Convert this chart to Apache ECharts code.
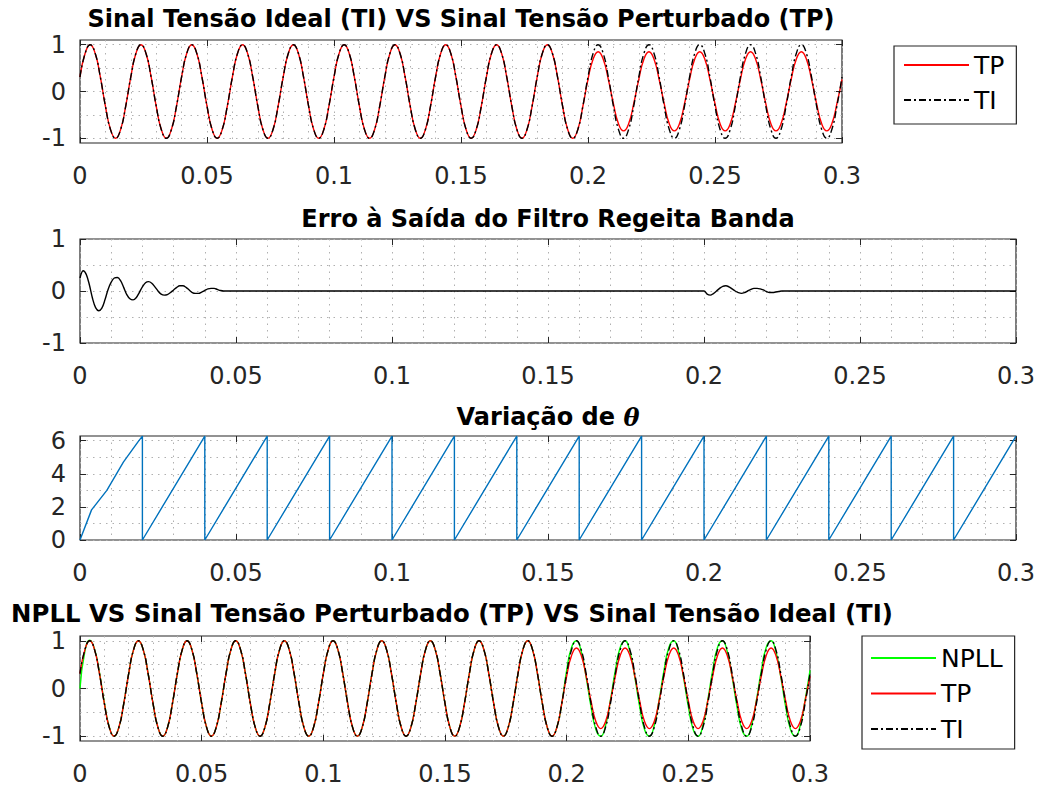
<!DOCTYPE html>
<html>
<head>
<meta charset="utf-8">
<script src="https://cdn.jsdelivr.net/npm/echarts@6/dist/echarts.min.js"></script>
<style>html,body{margin:0;padding:0;background:#fff}#chart{width:1043px;height:787px}</style>
</head>
<body>
<div id="chart"></div>
<script>
// ---------------- DATA ----------------
// sample spacing of the voltage signals (s)
const sampleStep = 0.002;

// Ideal voltage (TI), samples every 2 ms from t = 0 to 0.3 s
const tiValues = [
  0.31,0.81,1,0.81,0.31,-0.31,-0.81,-1,-0.81,-0.31,
  0.31,0.81,1,0.81,0.31,-0.31,-0.81,-1,-0.81,-0.31,
  0.31,0.81,1,0.81,0.31,-0.31,-0.81,-1,-0.81,-0.31,
  0.31,0.81,1,0.81,0.31,-0.31,-0.81,-1,-0.81,-0.31,
  0.31,0.81,1,0.81,0.31,-0.31,-0.81,-1,-0.81,-0.31,
  0.31,0.81,1,0.81,0.31,-0.31,-0.81,-1,-0.81,-0.31,
  0.31,0.81,1,0.81,0.31,-0.31,-0.81,-1,-0.81,-0.31,
  0.31,0.81,1,0.81,0.31,-0.31,-0.81,-1,-0.81,-0.31,
  0.31,0.81,1,0.81,0.31,-0.31,-0.81,-1,-0.81,-0.31,
  0.31,0.81,1,0.81,0.31,-0.31,-0.81,-1,-0.81,-0.31,
  0.31,0.81,1,0.81,0.31,-0.31,-0.81,-1,-0.81,-0.31,
  0.31,0.81,1,0.81,0.31,-0.31,-0.81,-1,-0.81,-0.31,
  0.31,0.81,1,0.81,0.31,-0.31,-0.81,-1,-0.81,-0.31,
  0.31,0.81,1,0.81,0.31,-0.31,-0.81,-1,-0.81,-0.31,
  0.31,0.81,1,0.81,0.31,-0.31,-0.81,-1,-0.81,-0.31,
  0.31
];

// Perturbed voltage (TP): sag to ~0.85 after t = 0.2 s
const tpValues = [
  0.31,0.81,1,0.81,0.31,-0.31,-0.81,-1,-0.81,-0.31,
  0.31,0.81,1,0.81,0.31,-0.31,-0.81,-1,-0.81,-0.31,
  0.31,0.81,1,0.81,0.31,-0.31,-0.81,-1,-0.81,-0.31,
  0.31,0.81,1,0.81,0.31,-0.31,-0.81,-1,-0.81,-0.31,
  0.31,0.81,1,0.81,0.31,-0.31,-0.81,-1,-0.81,-0.31,
  0.31,0.81,1,0.81,0.31,-0.31,-0.81,-1,-0.81,-0.31,
  0.31,0.81,1,0.81,0.31,-0.31,-0.81,-1,-0.81,-0.31,
  0.31,0.81,1,0.81,0.31,-0.31,-0.81,-1,-0.81,-0.31,
  0.31,0.81,1,0.81,0.31,-0.31,-0.81,-1,-0.81,-0.31,
  0.31,0.81,1,0.81,0.31,-0.31,-0.81,-1,-0.81,-0.31,
  0.26,0.69,0.85,0.69,0.26,-0.26,-0.69,-0.84,-0.69,-0.26,
  0.26,0.69,0.85,0.69,0.26,-0.26,-0.69,-0.84,-0.69,-0.26,
  0.26,0.69,0.85,0.69,0.26,-0.26,-0.69,-0.84,-0.69,-0.26,
  0.26,0.69,0.85,0.69,0.26,-0.26,-0.69,-0.84,-0.69,-0.26,
  0.26,0.69,0.85,0.69,0.26,-0.26,-0.69,-0.84,-0.69,-0.26,
  0.26
];

// NPLL output
const npllValues = [
  0,0.78,1.01,0.82,0.33,-0.29,-0.8,-1,-0.81,-0.31,
  0.31,0.81,1,0.81,0.31,-0.31,-0.81,-1,-0.81,-0.31,
  0.31,0.81,1,0.81,0.31,-0.31,-0.81,-1,-0.81,-0.31,
  0.31,0.81,1,0.81,0.31,-0.31,-0.81,-1,-0.81,-0.31,
  0.31,0.81,1,0.81,0.31,-0.31,-0.81,-1,-0.81,-0.31,
  0.31,0.81,1,0.81,0.31,-0.31,-0.81,-1,-0.81,-0.31,
  0.31,0.81,1,0.81,0.31,-0.31,-0.81,-1,-0.81,-0.31,
  0.31,0.81,1,0.81,0.31,-0.31,-0.81,-1,-0.81,-0.31,
  0.31,0.81,1,0.81,0.31,-0.31,-0.81,-1,-0.81,-0.31,
  0.31,0.81,1,0.81,0.31,-0.31,-0.81,-1,-0.81,-0.31,
  0.38,0.86,1,0.77,0.24,-0.38,-0.86,-1,-0.77,-0.24,
  0.38,0.86,1,0.77,0.24,-0.38,-0.86,-1,-0.77,-0.24,
  0.38,0.86,1,0.77,0.24,-0.38,-0.86,-1,-0.77,-0.24,
  0.38,0.86,1,0.77,0.24,-0.38,-0.86,-1,-0.77,-0.24,
  0.38,0.86,1,0.77,0.24,-0.38,-0.86,-1,-0.77,-0.24,
  0.38
];

// Band-reject filter error
const errTime = [
  0,0.001,0.002,0.003,0.004,0.005,0.006,0.007,0.008,0.009,
  0.010,0.011,0.012,0.013,0.014,0.015,0.016,0.017,0.018,0.019,
  0.020,0.021,0.022,0.023,0.024,0.025,0.026,0.027,0.028,0.029,
  0.030,0.031,0.032,0.033,0.034,0.035,0.036,0.037,0.038,0.039,
  0.040,0.041,0.042,0.043,0.044,0.045,0.046,
  0.200,0.201,0.202,0.203,0.204,0.205,0.206,0.207,0.208,0.209,
  0.210,0.211,0.212,0.213,0.214,0.215,0.216,0.217,0.218,0.219,
  0.220,0.221,0.222,0.223,0.224,0.225,0.300
];
const errValue = [
  0.25,0.39,0.32,0.12,-0.14,-0.32,-0.38,-0.33,-0.17,0.03,
  0.17,0.25,0.26,0.2,0.07,-0.07,-0.15,-0.17,-0.13,-0.03,
  0.08,0.16,0.18,0.15,0.08,0.0,-0.06,-0.08,-0.07,-0.03,
  0.02,0.07,0.1,0.1,0.07,0.02,-0.03,-0.045,-0.045,-0.02,
  0.01,0.04,0.05,0.05,0.03,0.01,0,
  0,-0.06,-0.08,-0.05,0,0.05,0.09,0.1,0.08,0.04,
  0,-0.03,-0.045,-0.03,0,0.03,0.05,0.05,0.04,0.02,
  -0.01,-0.03,-0.03,-0.02,-0.01,0,0
];

// Phase angle theta (rad)
const thetaTime = [
  0,0.0037,0.0086,0.0139,0.0187,0.02,
  0.02,0.04, 0.04,0.06, 0.06,0.08, 0.08,0.10, 0.10,0.12, 0.12,0.14,
  0.14,0.16, 0.16,0.18, 0.18,0.20, 0.20,0.22, 0.22,0.24, 0.24,0.26,
  0.26,0.28, 0.28,0.30
];
const thetaValue = [
  0,1.82,3.0,4.7,5.96,6.28,
  0,6.28, 0,6.28, 0,6.28, 0,6.28, 0,6.28, 0,6.28,
  0,6.28, 0,6.28, 0,6.28, 0,6.28, 0,6.28, 0,6.28,
  0,6.28, 0,6.28
];

// tick labels
const xTicks = [0, 0.05, 0.1, 0.15, 0.2, 0.25, 0.3];
const yTicksSignal = [-1, 0, 1];
const yGridSignal = [-1, -0.5, 0, 0.5, 1];
const yTicksTheta = [0, 2, 4, 6];
const yGridTheta = [0, 1, 2, 3, 4, 5, 6];

// --------------- CHART ----------------
const FONT = 'DejaVu Sans';
const AX = '#262626';
const gridDot = { color: '#b0b0b0', width: 1, type: [1.5, 5] };

const toPairs = vals => vals.map((v, i) => [Math.round(i * sampleStep * 1e6) / 1e6, v]);
const zip = (a, b) => a.map((v, i) => [v, b[i]]);

const grids = [
  { left: 80, top: 40, width: 762, height: 103 },
  { left: 80, top: 239, width: 936, height: 104 },
  { left: 80, top: 436, width: 936, height: 104 },
  { left: 80, top: 636, width: 730, height: 105 }
].map(g => Object.assign(g, { show: true, borderColor: AX, borderWidth: 1.2, backgroundColor: '#fff' }));

const noLine = { show: false, onZero: false };
const xAxes = [];
const yAxes = [];
const yCfg = [
  { min: -1.1, max: 1.1, ticks: yTicksSignal, grid: yGridSignal },
  { min: -1, max: 1, ticks: yTicksSignal, grid: yGridSignal },
  { min: 0, max: 6.2832, ticks: yTicksTheta, grid: yGridTheta },
  { min: -1.1, max: 1.1, ticks: yTicksSignal, grid: yGridSignal }
];
grids.forEach((g, gi) => {
  xAxes.push({
    type: 'value', gridIndex: gi, min: 0, max: 0.3, position: 'bottom',
    axisLine: noLine,
    axisTick: { inside: true, length: 6, lineStyle: { color: AX }, customValues: xTicks },
    axisLabel: { customValues: xTicks, fontSize: 24, fontFamily: FONT, color: AX, margin: 21 },
    splitLine: { show: false }
  });
  xAxes.push({
    type: 'value', gridIndex: gi, min: 0, max: 0.3, interval: 0.01, position: 'top',
    axisLine: noLine,
    axisTick: { show: false },
    axisLabel: { show: false },
    splitLine: { show: true, lineStyle: gridDot }
  });
  xAxes.push({
    type: 'value', gridIndex: gi, min: 0, max: 0.3, position: 'top',
    axisLine: noLine,
    axisTick: { inside: true, length: 6, lineStyle: { color: AX }, customValues: xTicks },
    axisLabel: { show: false },
    splitLine: { show: false }
  });
  const c = yCfg[gi];
  yAxes.push({
    type: 'value', gridIndex: gi, min: c.min, max: c.max, position: 'left',
    axisLine: noLine,
    axisTick: { inside: true, length: 6, lineStyle: { color: AX }, customValues: c.ticks },
    axisLabel: { customValues: c.ticks, fontSize: 24, fontFamily: FONT, color: AX, margin: 14 },
    splitLine: { show: false }
  });
  yAxes.push({
    type: 'value', gridIndex: gi, min: c.min, max: c.max, position: 'left',
    axisLine: noLine,
    axisTick: { show: false, customValues: c.grid },
    axisLabel: { show: false },
    splitLine: { show: true, lineStyle: gridDot }
  });
  yAxes.push({
    type: 'value', gridIndex: gi, min: c.min, max: c.max, position: 'right',
    axisLine: noLine,
    axisTick: { inside: true, length: 6, lineStyle: { color: AX }, customValues: c.ticks },
    axisLabel: { show: false },
    splitLine: { show: false }
  });
});

const dashDot = [7, 3, 2, 3];
const line = (name, gi, data, color, type, extra) => Object.assign({
  name, type: 'line', xAxisIndex: gi * 3, yAxisIndex: gi * 3, data,
  symbol: 'none', showSymbol: false, smooth: 0.5, animation: false,
  lineStyle: { color, width: 1.4, type: type || 'solid' },
  itemStyle: { color }
}, extra || {});

const series = [
  line('TP', 0, toPairs(tpValues), '#ff0000'),
  line('TI', 0, toPairs(tiValues), '#000000', dashDot),
  line('Erro', 1, zip(errTime, errValue), '#000000', 'solid', { smooth: 0.35 }),
  line('theta', 2, zip(thetaTime, thetaValue), '#0072BD', 'solid', { smooth: false }),
  line('NPLL', 3, toPairs(npllValues), '#00ff00'),
  line('TP', 3, toPairs(tpValues), '#ff0000'),
  line('TI', 3, toPairs(tiValues), '#000000', dashDot)
];

const legendBase = {
  orient: 'vertical', itemWidth: 65, itemHeight: 14, itemGap: 7, itemTextGap: 7,
  backgroundColor: '#fff', borderColor: AX, borderWidth: 1.2, borderRadius: 0,
  itemStyle: { opacity: 0, borderWidth: 0 },
  textStyle: { fontSize: 25, fontFamily: FONT, color: '#000', lineHeight: 28 },
  selectedMode: false
};
const legends = [
  Object.assign({}, legendBase, { left: 894, top: 46, padding: [5, 12, 10, 9], data: ['TP', 'TI'] }),
  Object.assign({}, legendBase, { left: 862, top: 636, padding: [8, 12, 6, 8], itemGap: 7.5, data: ['NPLL', 'TP', 'TI'] })
];

const titleStyle = { fill: '#000', align: 'center', verticalAlign: 'middle', textAlign: 'center', textVerticalAlign: 'middle' };
const titles = [
  { text: 'Sinal Tensão Ideal (TI) VS Sinal Tensão Perturbado (TP)', x: 461, y: 19, size: 24 },
  { text: 'Erro à Saída do Filtro Regeita Banda', x: 548, y: 219, size: 24 },
  { text: 'Variação de {th|θ}', x: 548, y: 417, size: 24 },
  { text: 'NPLL VS Sinal Tensão Perturbado (TP) VS Sinal Tensão Ideal (TI)', x: 452, y: 613, size: 24.4 }
].map(t => ({
  type: 'text', x: t.x, y: t.y, silent: true,
  style: Object.assign({}, titleStyle, {
    text: t.text,
    font: 'bold ' + t.size + 'px "DejaVu Sans"',
    rich: { th: { fontStyle: 'italic', fontWeight: 'bold', fontSize: 24, fontFamily: 'DejaVu Serif', fill: '#000' } }
  })
}));

const chart = echarts.init(document.getElementById('chart'), null, { renderer: 'svg' });
chart.setOption({
  animation: false,
  backgroundColor: '#fff',
  textStyle: { fontFamily: FONT },
  grid: grids,
  xAxis: xAxes,
  yAxis: yAxes,
  legend: legends,
  series: series,
  graphic: titles
});
</script>
</body>
</html>
